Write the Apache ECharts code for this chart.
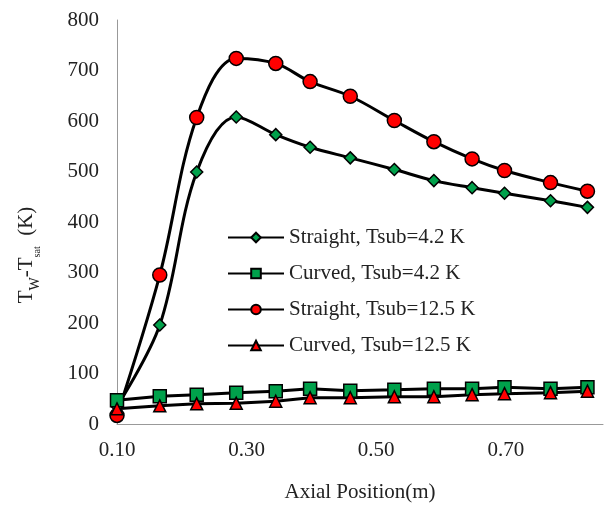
<!DOCTYPE html>
<html lang="en">
<head>
    <meta charset="utf-8" />
    <title>Tw-Tsat vs axial position</title>
    <script src="https://cdn.jsdelivr.net/npm/echarts@6/dist/echarts.min.js"></script>
    <style>
        html, body { margin: 0; padding: 0; background: #fff; }
    </style>
</head>
<body>
    <div id="box" style="width:605px;height:508px;"></div>
<script>
    // x positions (m)
    var axialPos = [0.100, 0.166, 0.223, 0.284, 0.345, 0.398, 0.460, 0.528, 0.589, 0.648, 0.698, 0.769, 0.826];
    // Tw - Tsat (K)
    var straight42  = [35, 196, 499, 608, 573, 548, 527, 504, 482, 468, 457, 442, 429];
    var curved42    = [47, 55, 58, 62, 65, 70, 66, 68, 70, 70, 73, 70, 73];
    var straight125 = [17, 295, 607, 724, 714, 678, 649, 601, 559, 525, 502, 478, 461];
    var curved125   = [30, 36, 40, 41, 45, 52, 52, 54, 54, 58, 60, 62, 65];
    var seriesNames = ['Straight, Tsub=4.2 K', 'Curved, Tsub=4.2 K', 'Straight, Tsub=12.5 K', 'Curved, Tsub=12.5 K'];
    var xLabels = ['0.10', '0.30', '0.50', '0.70'];

    var serif = '"Liberation Serif", "Times New Roman", serif';
    var txt = '#222';
    var green = '#00a14b';
    var red = '#ff0000';

    function pairs(vals) {
        return axialPos.map(function (x, i) { return [x, vals[i]]; });
    }

    function mkSeries(name, vals, symbol, size, color, smooth) {
        return {
            name: name,
            type: 'line',
            data: pairs(vals),
            smooth: smooth,
            symbol: symbol,
            symbolSize: size,
            showAllSymbol: true,
            clip: false,
            lineStyle: { color: '#000', width: 3 },
            itemStyle: { color: color, borderColor: '#000', borderWidth: 1.5 },
            emphasis: { disabled: true }
        };
    }

    var myChart = echarts.init(document.getElementById('box'));
    var option = {
        animation: false,
        grid: { left: 117, right: 2, top: 20, bottom: 84 },
        legend: {
            orient: 'vertical',
            left: 222,
            top: 222,
            itemWidth: 56,
            itemHeight: 12,
            itemGap: 15,
            textStyle: { fontFamily: serif, fontSize: 21, color: txt },
            data: seriesNames
        },
        xAxis: {
            type: 'value',
            min: 0.1,
            max: 0.85,
            interval: 0.1,
            name: 'Axial Position(m)',
            nameLocation: 'middle',
            nameGap: 58,
            nameTextStyle: { fontFamily: serif, fontSize: 21, color: txt },
            axisLine: { lineStyle: { color: '#999', width: 1 } },
            axisTick: { show: false },
            splitLine: { show: false },
            axisLabel: {
                fontFamily: serif, fontSize: 21, color: txt, margin: 16,
                showMaxLabel: false,
                formatter: function (v) {
                    var s = v.toFixed(2);
                    return xLabels.indexOf(s) >= 0 ? s : '';
                }
            }
        },
        yAxis: {
            type: 'value',
            min: 0,
            max: 800,
            interval: 100,
            name: 'T{w|W}-T{s|sat}  (K)',
            nameLocation: 'middle',
            nameGap: 80,
            nameRotate: 90,
            nameTextStyle: {
                fontFamily: serif, fontSize: 21, color: txt,
                padding: [0, 66, 0, 0],
                rich: {
                    w: { fontFamily: serif, fontSize: 14, color: txt, verticalAlign: 'bottom', padding: [0, 0, -5, 0] },
                    s: { fontFamily: serif, fontSize: 10, color: txt, verticalAlign: 'bottom', padding: [0, 0, -5, 0] }
                }
            },
            axisLine: { show: true, lineStyle: { color: '#999', width: 1 } },
            axisTick: { show: false },
            splitLine: { show: false },
            axisLabel: { fontFamily: serif, fontSize: 21, color: txt, margin: 18 }
        },
        series: [
            mkSeries(seriesNames[0], straight42, 'diamond', 12, green, 0.35),
            mkSeries(seriesNames[1], curved42, 'rect', 13, green, false),
            mkSeries(seriesNames[2], straight125, 'circle', 14, red, 0.35),
            mkSeries(seriesNames[3], curved125, 'triangle', 12, red, false)
        ]
    };
    myChart.setOption(option);
</script>
</body>
</html>
